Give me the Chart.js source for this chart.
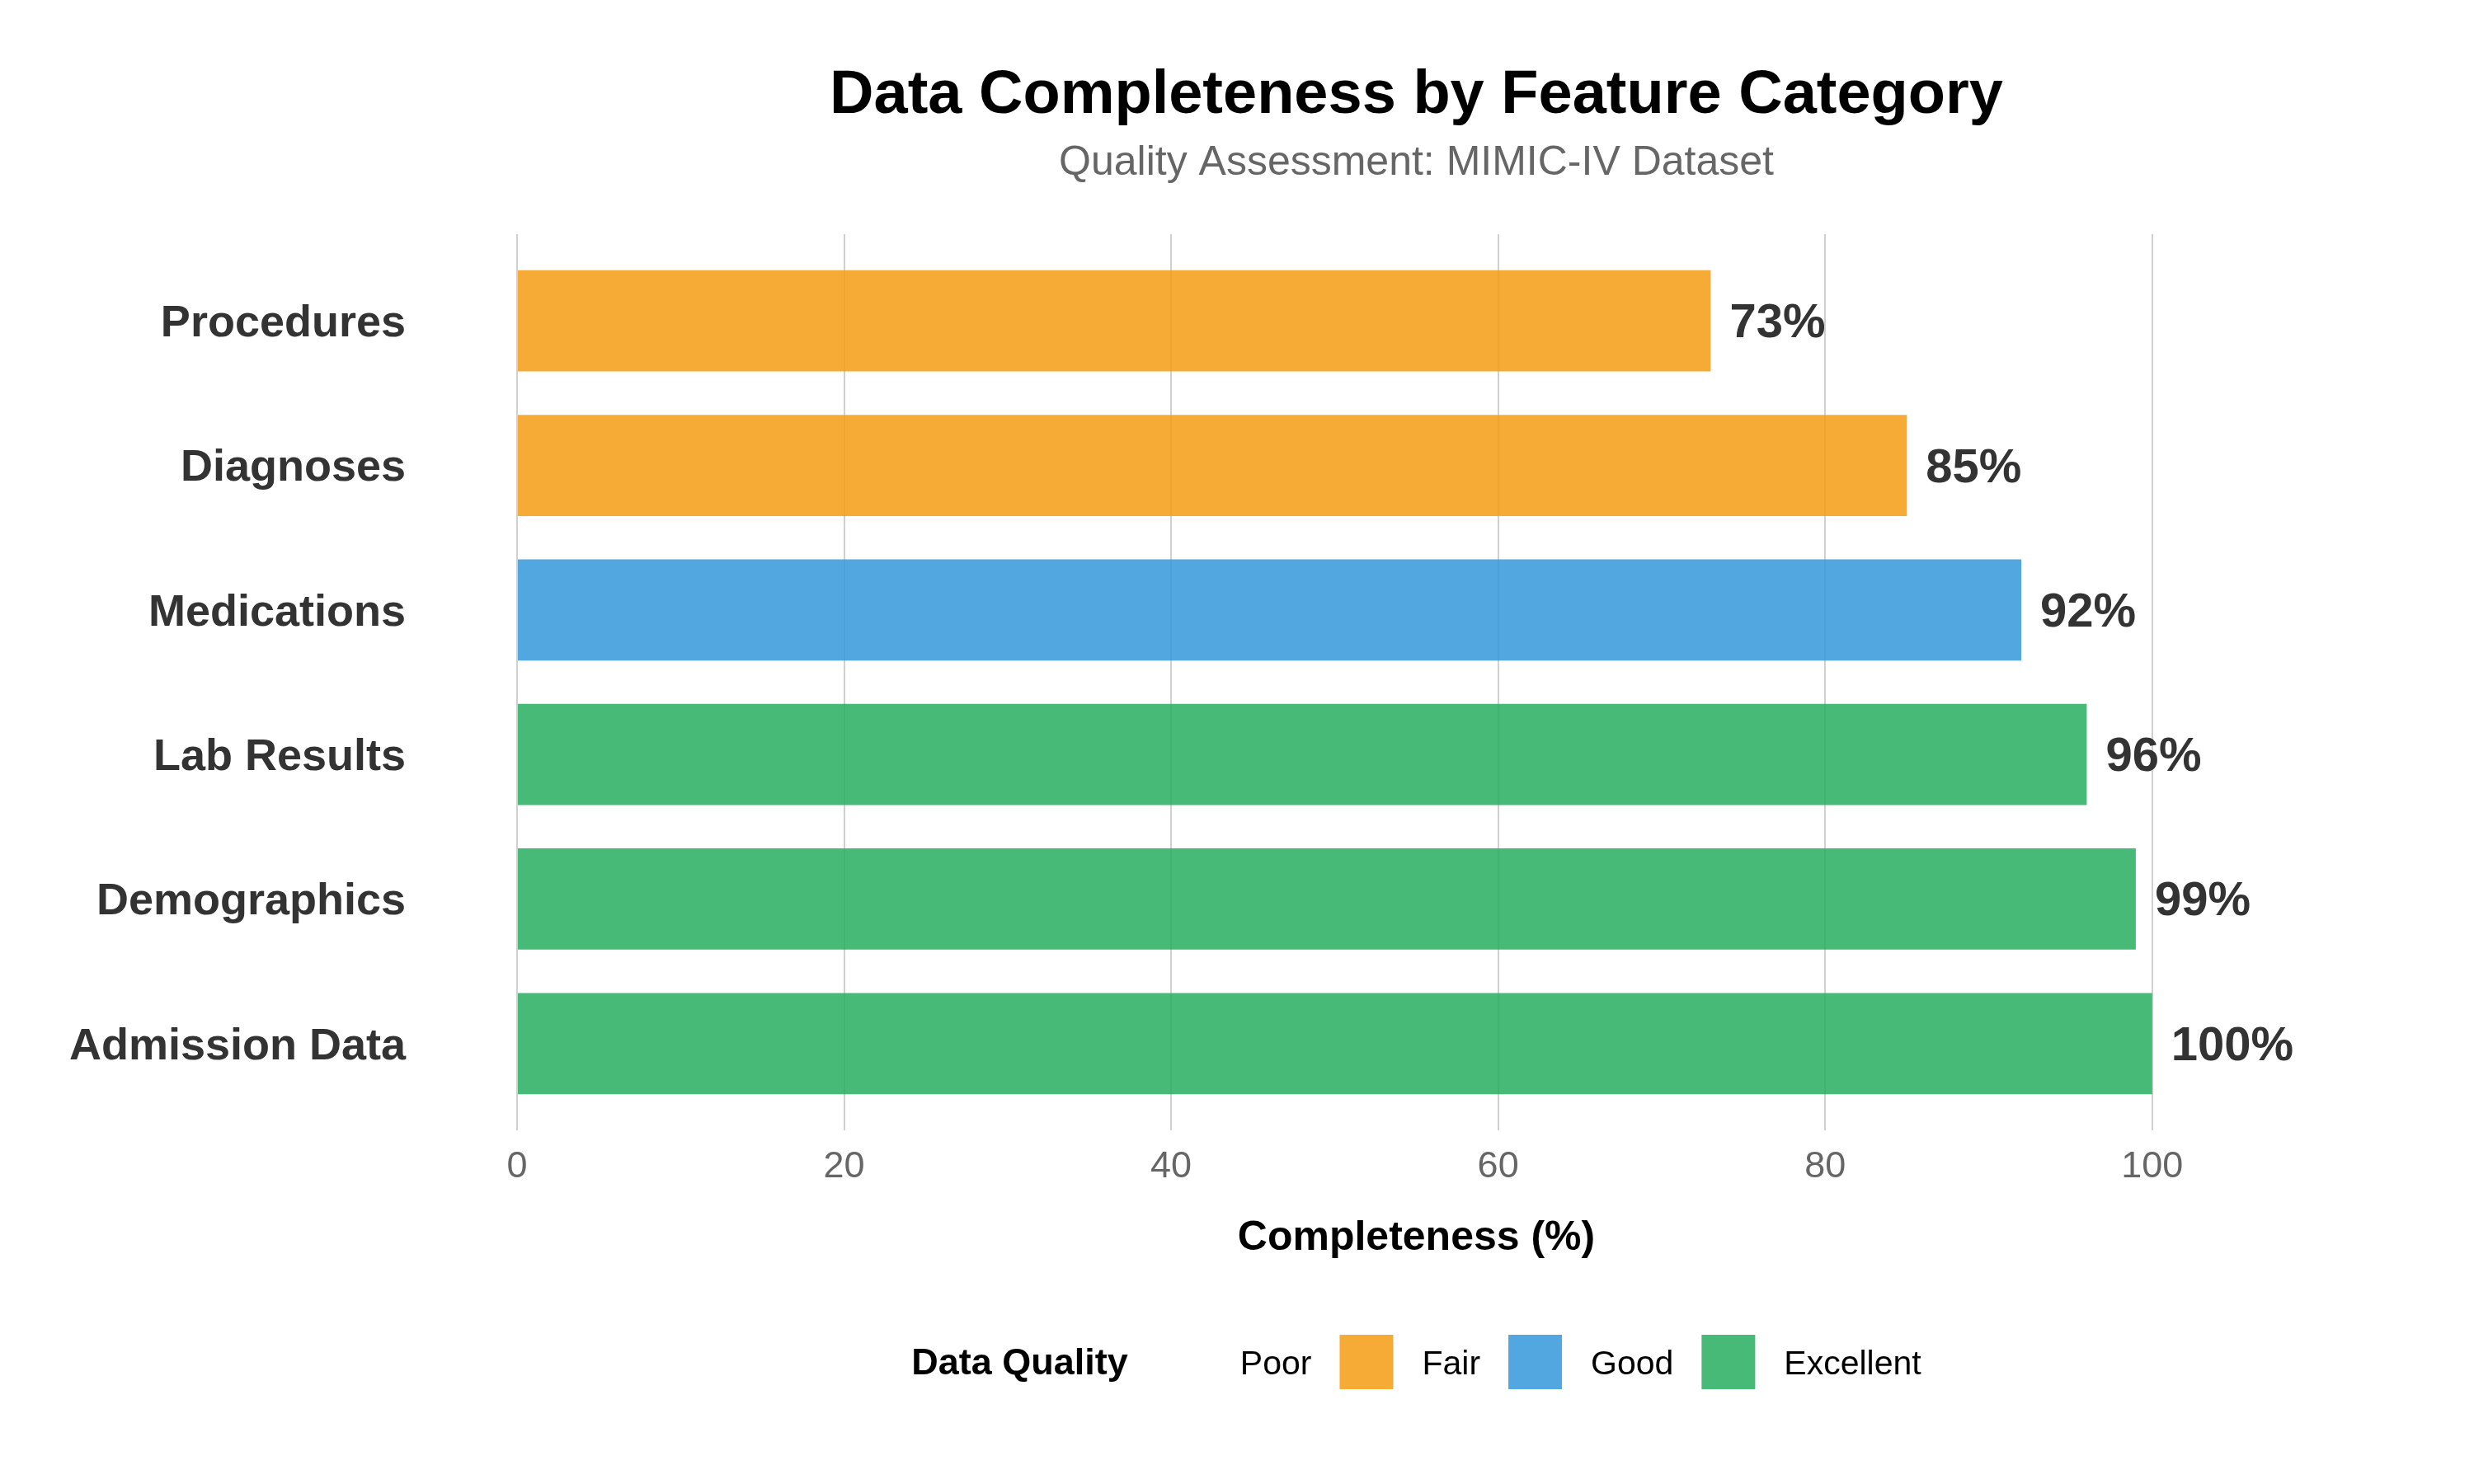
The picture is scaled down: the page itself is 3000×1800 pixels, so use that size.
<!DOCTYPE html>
<html><head><meta charset="utf-8">
<script src="https://cdn.jsdelivr.net/npm/chart.js@4.4.1/dist/chart.umd.min.js"></script>
<style>html,body{margin:0;padding:0;background:#fff}</style>
</head><body>
<canvas id="c" width="3000" height="1800"></canvas>
<script>
const categories = ['Procedures','Diagnoses','Medications','Lab Results','Demographics','Admission Data'];
const completeness = [73, 85, 92, 96, 99, 100];
const quality = ['Fair','Fair','Good','Excellent','Excellent','Excellent'];
const qualityLevels = ['Poor','Fair','Good','Excellent'];
const qualityColors = {Poor: null, Fair: 'rgba(243,156,18,0.85)', Good: 'rgba(52,152,219,0.85)', Excellent: 'rgba(39,174,96,0.85)'};
const xTicks = [0, 20, 40, 60, 80, 100];
const titleText = 'Data Completeness by Feature Category';
const subtitleText = 'Quality Assessment: MIMIC-IV Dataset';
const xTitle = 'Completeness (%)';
const legendTitle = 'Data Quality';
const FONT = '"Liberation Sans", Arial, Helvetica, sans-serif';

const decor = {
  id: 'decor',
  afterDatasetsDraw(chart) {
    const ctx = chart.ctx;
    const meta = chart.getDatasetMeta(0);
    ctx.save();
    ctx.font = 'bold 58px ' + FONT;
    ctx.fillStyle = '#333333';
    ctx.textBaseline = 'middle';
    ctx.textAlign = 'left';
    meta.data.forEach((bar, i) => {
      ctx.fillText(completeness[i] + '%', bar.x + 23, bar.y + 4);
    });
    ctx.restore();
  },
  afterDraw(chart) {
    const ctx = chart.ctx, ca = chart.chartArea;
    const cx = (ca.left + ca.right) / 2;
    ctx.save();
    ctx.textBaseline = 'alphabetic';
    ctx.textAlign = 'center';
    ctx.fillStyle = '#000';
    ctx.font = 'bold 74px ' + FONT;
    ctx.fillText(titleText, cx, 137);
    ctx.fillStyle = '#666666';
    ctx.font = '50px ' + FONT;
    ctx.fillText(subtitleText, cx, 212);
    ctx.fillStyle = '#000';
    ctx.font = 'bold 50px ' + FONT;
    ctx.fillText(xTitle, cx, 1516);

    // legend
    const keyW = 65, keyH = 66, gapKL = 35, gapLK = 34, gapT = 36;
    ctx.font = 'bold 45px ' + FONT;
    const wT = ctx.measureText(legendTitle).width;
    ctx.font = '41px ' + FONT;
    const wL = qualityLevels.map(l => ctx.measureText(l).width);
    let total = wT + gapT;
    wL.forEach((w, i) => { total += keyW + gapKL + w + (i < wL.length - 1 ? gapLK : 0); });
    let x = cx - total / 2;
    const base = 1667, keyTop = 1619;
    ctx.textAlign = 'left';
    ctx.fillStyle = '#000';
    ctx.font = 'bold 45px ' + FONT;
    ctx.fillText(legendTitle, x, base);
    x += wT + gapT;
    ctx.font = '41px ' + FONT;
    qualityLevels.forEach((l, i) => {
      const col = qualityColors[l];
      if (col) { ctx.fillStyle = col; ctx.fillRect(x, keyTop, keyW, keyH); }
      x += keyW + gapKL;
      ctx.fillStyle = '#000';
      ctx.fillText(l, x, base);
      x += wL[i] + gapLK;
    });
    ctx.restore();
  }
};

new Chart(document.getElementById('c'), {
  type: 'bar',
  data: {
    datasets: [{
      data: categories.map((c, i) => ({x: completeness[i], y: i})),
      backgroundColor: quality.map(q => qualityColors[q]),
      borderWidth: 0,
      barPercentage: 0.7,
      categoryPercentage: 1
    }]
  },
  options: {
    indexAxis: 'y',
    responsive: false,
    animation: false,
    devicePixelRatio: 1,
    layout: {padding: {top: 284, right: 192, bottom: 0, left: 0}},
    plugins: {legend: {display: false}, tooltip: {enabled: false}, title: {display: false}},
    scales: {
      x: {
        type: 'linear', min: 0, max: 110, position: 'bottom', offset: false,
        afterBuildTicks: s => { s.ticks = xTicks.map(v => ({value: v})); },
        afterFit: s => { s.height = 429; },
        grid: {color: '#D0D0D0', lineWidth: 2, drawTicks: false, offset: false},
        border: {display: false},
        ticks: {padding: 18, color: '#666666', font: {family: FONT, size: 45}}
      },
      y: {
        type: 'linear', reverse: true, min: -0.6, max: 5.6, position: 'left', offset: false,
        afterBuildTicks: s => { s.ticks = categories.map((c, i) => ({value: i})); },
        afterFit: s => { s.width = 627; },
        grid: {display: false, drawTicks: false, offset: false},
        border: {display: false},
        ticks: {padding: 135, labelOffset: 4, color: '#333333', font: {family: FONT, size: 54, weight: 'bold'},
                callback: v => categories[v]}
      }
    }
  },
  plugins: [decor]
});
</script>
</body></html>
